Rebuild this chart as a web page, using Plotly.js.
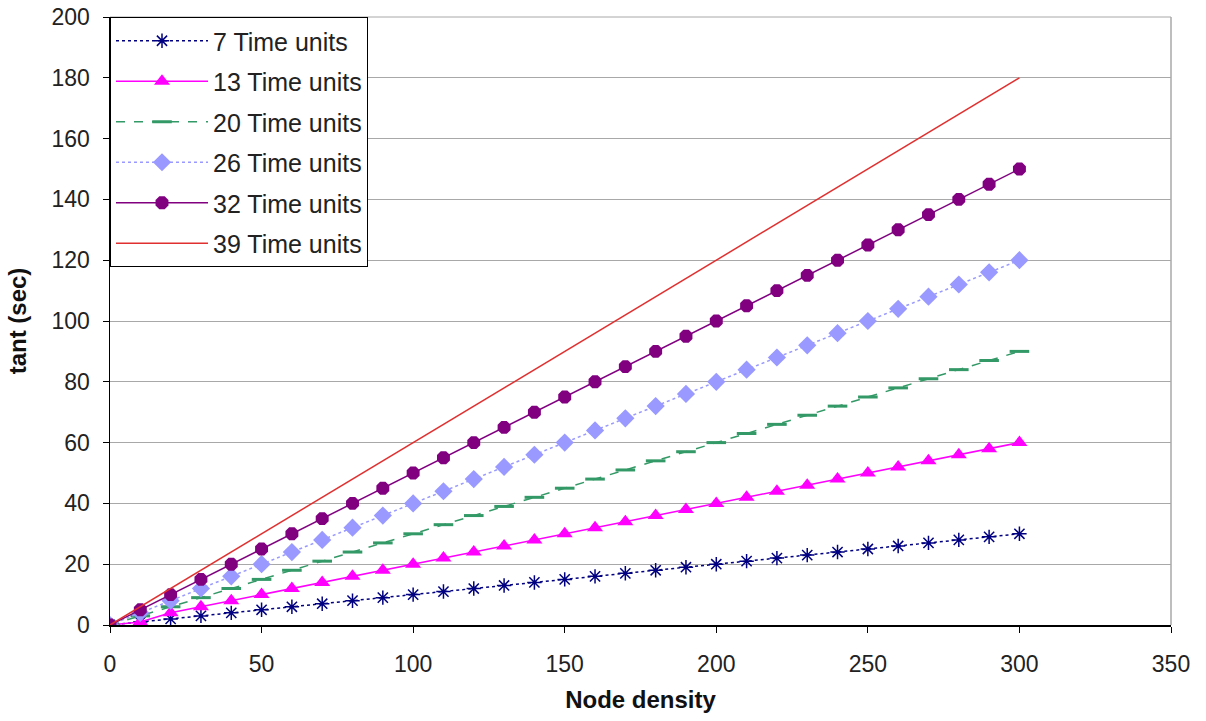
<!DOCTYPE html>
<html>
<head>
<meta charset="utf-8">
<script src="https://cdn.plot.ly/plotly-3.0.1.min.js"></script>
<style>html,body{margin:0;padding:0;background:#fff;}#chart{width:1206px;height:721px;}</style>
</head>
<body>
<div id="chart"></div>
<script>
var nodeDensity = [0,10,20,30,40,50,60,70,80,90,100,110,120,130,140,150,160,170,180,190,200,210,220,230,240,250,260,270,280,290,300];
var t7  = [0,1,2,3,4,5,6,7,8,9,10,11,12,13,14,15,16,17,18,19,20,21,22,23,24,25,26,27,28,29,30];
var t13 = [0,1,4,6,8,10,12,14,16,18,20,22,24,26,28,30,32,34,36,38,40,42,44,46,48,50,52,54,56,58,60];
var t20 = [0,3,6,9,12,15,18,21,24,27,30,33,36,39,42,45,48,51,54,57,60,63,66,69,72,75,78,81,84,87,90];
var t26 = [0,4,8,12,16,20,24,28,32,36,40,44,48,52,56,60,64,68,72,76,80,84,88,92,96,100,104,108,112,116,120];
var t32 = [0,5,10,15,20,25,30,35,40,45,50,55,60,65,70,75,80,85,90,95,100,105,110,115,120,125,130,135,140,145,150];
var t39 = [0,6,12,18,24,30,36,42,48,54,60,66,72,78,84,90,96,102,108,114,120,126,132,138,144,150,156,162,168,174,180];
var seriesNames = ["7 Time units","13 Time units","20 Time units","26 Time units","32 Time units","39 Time units"];
var xTicks = [0,50,100,150,200,250,300,350];
var yTicks = [0,20,40,60,80,100,120,140,160,180,200];

var FONT = "Arial, 'Liberation Sans', sans-serif";

var traces = [
  {x: nodeDensity, y: t7, name: seriesNames[0], legendgroup: "g1", mode: "lines+markers",
   line: {color: "#000080", width: 1.5, dash: "dot"},
   marker: {symbol: "asterisk-open", size: 12, color: "#000080", line: {color: "#000080", width: 1.5}}},
  {x: nodeDensity, y: t13, name: seriesNames[1], legendgroup: "g2", mode: "lines+markers",
   line: {color: "#FF00FF", width: 1.5},
   marker: {symbol: "triangle-up", size: 14, color: "#FF00FF"}},
  {x: nodeDensity, y: t20, name: seriesNames[2], legendgroup: "g3", mode: "lines+markers",
   line: {color: "#339966", width: 1.5, dash: "dash"},
   marker: {symbol: "line-ew-open", size: 14, color: "#339966", line: {color: "#339966", width: 3}}},
  {x: nodeDensity, y: t26, name: seriesNames[3], legendgroup: "g4", mode: "lines+markers",
   line: {color: "#9999FF", width: 1.5, dash: "dot"},
   marker: {symbol: "diamond", size: 14, color: "#9999FF"}},
  {x: nodeDensity, y: t32, name: seriesNames[4], legendgroup: "g5", mode: "lines+markers",
   line: {color: "#800080", width: 1.5},
   marker: {symbol: "octagon", size: 14, color: "#800080"}},
  {x: nodeDensity, y: t39, name: seriesNames[5], legendgroup: "g6", mode: "lines",
   line: {color: "#E03030", width: 1.5}}
];

var layout = {
  width: 1206, height: 721,
  margin: {l: 110, r: 35, t: 17, b: 96},
  paper_bgcolor: "#fff", plot_bgcolor: "#fff",
  font: {family: FONT, size: 22, color: "#222"},
  showlegend: true,
  legend: {x: 0, y: 1, xanchor: "left", yanchor: "top", bgcolor: "#fff",
           bordercolor: "#000", borderwidth: 1, font: {family: FONT, size: 25, color: "#222"},
           tracegroupgap: 5, itemwidth: 92},
  xaxis: {range: [0, 350], tickvals: xTicks, ticktext: xTicks.map(String),
          showgrid: false, zeroline: false, showline: true, linecolor: "#000", linewidth: 1.5,
          ticks: "outside", ticklen: 6, tickcolor: "#000", ticklabelstandoff: 12,
          tickfont: {family: FONT, size: 23, color: "#222"},
          title: {text: "<b>Node density</b>", font: {family: FONT, size: 24, color: "#111"}, standoff: 15}},
  yaxis: {range: [0, 200], tickvals: yTicks, ticktext: yTicks.map(String),
          showgrid: true, gridcolor: "#a8a8a8", gridwidth: 1, zeroline: false,
          showline: true, linecolor: "#000", linewidth: 1.5,
          ticks: "outside", ticklen: 6, tickcolor: "#000", ticklabelstandoff: 8,
          tickfont: {family: FONT, size: 23, color: "#222"},
          title: {text: "<b>tant (sec)</b>", font: {family: FONT, size: 24, color: "#111"}, standoff: 18}},
  shapes: [
    {type: "line", xref: "paper", yref: "paper", x0: 1, x1: 1, y0: 0, y1: 1, line: {color: "#a8a8a8", width: 1.5}},
    {type: "line", xref: "paper", yref: "paper", x0: 0, x1: 1, y0: 1, y1: 1, line: {color: "#a8a8a8", width: 1}}
  ]
};

Plotly.newPlot("chart", traces, layout, {displayModeBar: false, staticPlot: true});
</script>
</body>
</html>
